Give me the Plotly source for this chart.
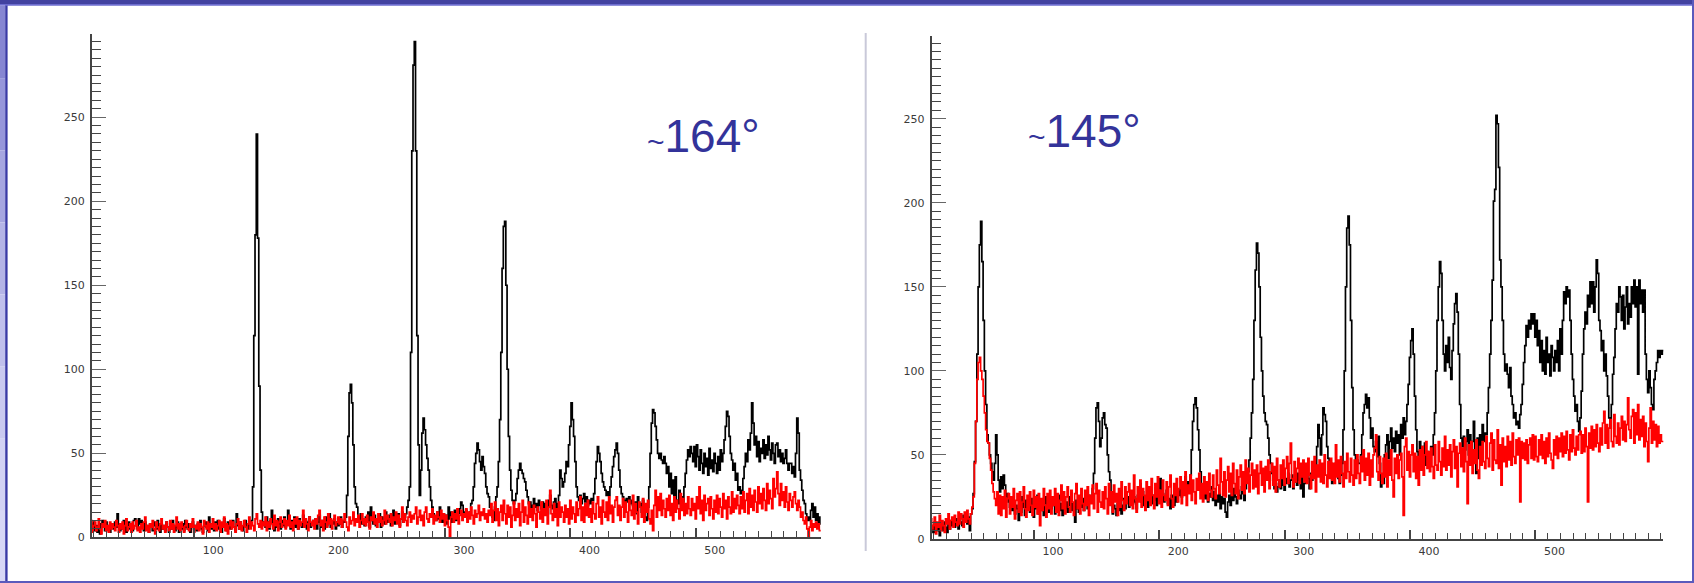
import plotly.graph_objects as go

W, H = 1694, 583

FIRST_CHANNEL = 1

# ---------------- left spectrum (~164 deg) ----------------
left_black = [
    9,10,8,6,9,4,7,3,5,2,8,10,6,4,9,5,7,3,6,8,
    5,9,6,14,7,4,8,5,10,6,3,7,9,5,8,4,10,11,7,5,
    11,8,10,6,4,9,5,7,3,8,6,4,9,7,5,10,6,3,8,5,
    7,4,9,6,3,8,5,10,7,4,6,9,3,7,5,8,4,10,6,5,
    8,3,6,9,5,7,4,8,6,10,5,3,7,9,6,4,12,8,5,7,
    4,9,6,10,5,8,3,7,11,6,4,9,7,5,8,10,6,4,14,7,
    5,9,6,4,8,10,6,5,9,7,10,30,120,180,240,178,90,40,15,9,
    8,6,12,9,5,10,16,7,4,9,6,11,8,5,10,7,12,6,9,16,
    8,5,10,7,12,6,9,5,11,8,6,13,7,10,5,9,12,6,8,10,
    7,11,5,9,13,6,10,8,5,12,7,9,14,6,10,8,11,5,9,7,
    8,12,6,10,9,12,25,60,86,91,80,55,30,20,18,12,9,14,8,11,
    7,12,9,15,6,18,10,8,13,7,11,9,14,6,12,10,8,15,9,11,
    13,7,10,16,8,12,9,14,7,11,15,9,12,14,18,22,30,110,230,281,
    295,230,120,55,25,40,62,71,64,55,47,40,30,22,18,14,12,10,15,11,
    18,12,9,14,10,13,8,18,11,15,9,13,16,10,12,14,17,21,19,15,
    12,16,11,14,15,20,22,30,44,50,56,52,45,40,48,42,38,30,26,24,
    18,15,12,10,18,24,30,45,70,110,160,185,188,150,100,60,40,28,22,20,
    22,26,35,40,44,40,38,35,33,28,24,20,21,17,19,23,18,20,16,22,
    19,17,21,15,20,18,14,22,25,19,17,21,23,18,20,25,40,35,30,33,
    38,45,42,55,66,80,70,60,45,30,24,22,25,20,23,26,21,24,19,22,
    20,23,22,26,35,45,54,50,45,38,33,30,28,25,27,25,30,36,42,48,
    52,56,50,40,30,26,24,22,20,23,21,24,20,22,19,17,21,14,24,18,
    20,15,22,16,12,10,18,30,50,68,76,74,66,58,50,47,50,46,44,48,
    44,38,42,30,38,26,34,24,36,22,20,28,20,24,21,30,38,46,52,48,
    54,50,45,54,42,55,48,40,52,44,38,50,42,47,37,53,41,46,39,50,
    44,38,48,40,52,45,50,58,66,75,72,60,50,46,40,44,34,38,28,30,
    26,28,35,42,50,45,58,52,62,80,68,55,60,48,57,45,53,50,58,47,
    55,49,60,52,46,56,50,44,55,56,48,52,45,50,44,47,52,44,40,44,
    44,38,42,36,50,71,62,40,34,28,22,20,14,10,12,10,16,20,12,18,
    10,14,8,12,8,10,8,9,8,8,
]

left_red = [
    8,5,10,3,7,9,4,6,11,5,2,8,6,10,4,7,3,9,5,8,
    6,4,10,7,3,8,5,9,2,7,11,4,6,8,3,9,5,7,10,4,
    6,3,8,5,9,12,4,7,3,8,6,10,5,2,9,6,4,8,11,5,
    7,3,9,6,4,10,5,8,3,7,12,5,8,4,9,6,3,7,10,5,
    4,8,6,11,3,7,5,9,4,8,6,2,10,7,5,9,3,8,6,11,
    5,8,4,7,10,3,9,6,12,4,8,2,7,10,5,9,6,3,8,11,
    5,9,4,7,10,6,3,8,12,5,9,7,4,11,14,8,6,10,5,9,
    7,12,4,9,6,11,8,5,13,7,10,4,9,12,6,8,11,5,10,7,
    13,6,9,4,11,8,12,5,10,7,9,16,6,11,8,4,12,9,7,10,
    5,11,8,13,16,7,10,4,12,9,6,14,8,11,5,10,13,7,9,12,
    8,11,6,10,14,9,6,4,12,8,10,15,7,11,9,13,6,10,14,8,
    11,7,13,9,5,12,10,15,8,11,6,14,9,12,7,10,16,8,13,11,
    9,14,7,12,10,15,8,13,6,11,18,9,14,10,7,12,15,9,13,11,
    14,18,8,12,16,10,13,7,15,18,11,9,14,12,17,8,13,10,15,12,
    9,16,11,14,7,13,10,6,0,12,15,9,14,11,17,8,13,16,10,14,
    12,17,9,15,11,18,13,8,16,12,14,19,10,15,13,17,11,14,9,16,
    13,20,9,16,21,10,17,7,15,19,10,22,14,8,19,12,18,6,13,21,
    10,17,12,20,7,15,22,9,18,13,8,21,12,17,10,19,14,6,18,15,
    11,21,9,17,13,22,8,18,28,14,10,20,12,17,7,21,12,18,15,9,
    19,12,17,8,22,11,18,14,9,21,13,17,24,10,18,9,20,13,22,12,
    17,9,21,14,11,20,24,12,18,8,22,15,12,21,10,24,14,19,9,18,
    22,24,13,19,10,18,23,12,21,15,9,22,16,13,25,11,20,15,8,21,
    18,12,23,9,20,15,22,11,8,16,4,19,28,12,24,16,26,13,22,17,
    12,23,16,25,13,20,10,24,15,22,17,11,26,16,23,13,20,14,24,17,
    13,23,16,20,11,24,17,30,14,22,10,25,16,20,23,13,24,17,11,22,
    15,25,14,23,18,12,26,17,22,11,24,18,14,27,15,23,17,25,19,14,
    24,17,27,15,22,26,14,29,18,25,16,28,21,15,30,20,26,17,29,22,
    16,32,20,28,23,17,35,24,29,39,26,19,32,22,27,18,30,21,16,26,
    22,18,24,27,20,16,22,18,12,15,10,8,12,5,0,6,10,4,8,6,
    9,5,8,4,4,6,5,4,5,4,
]

# ---------------- right spectrum (~145 deg) ----------------
right_black = [
    7,9,6,8,4,10,7,5,9,2,6,8,5,10,7,4,9,6,11,8,
    10,7,12,9,6,13,10,8,14,11,12,9,13,5,15,18,27,46,70,110,
    150,175,189,165,130,100,80,62,57,50,45,40,35,45,62,50,35,28,37,30,
    38,32,25,27,22,19,24,17,21,15,20,18,11,22,16,25,19,14,23,18,
    21,16,24,20,13,22,18,26,15,20,23,17,14,21,25,19,16,22,18,24,
    20,15,23,19,26,17,21,14,24,18,22,16,20,25,17,21,19,10,23,18,
    16,22,19,24,17,21,25,18,26,22,22,30,39,60,78,81,70,55,60,72,
    75,68,66,50,40,35,22,15,20,18,14,21,17,23,15,20,24,18,22,25,
    19,23,27,21,25,22,18,26,24,33,22,28,20,25,23,19,27,24,21,26,
    23,28,20,26,30,36,24,27,22,25,29,21,24,18,26,23,20,25,22,28,
    26,30,25,33,28,37,30,34,32,38,53,70,80,84,78,65,53,40,30,25,
    28,24,30,22,27,25,31,23,28,20,26,22,27,18,25,21,24,16,13,22,
    26,20,28,23,30,25,21,29,26,24,31,27,23,30,35,40,47,60,75,95,
    130,160,176,170,150,120,100,85,75,70,68,60,50,45,39,35,30,33,28,31,
    35,30,37,32,29,36,33,39,31,35,38,30,34,36,32,39,35,30,37,25,
    33,38,41,36,30,39,35,42,37,40,55,68,60,50,62,78,74,70,55,48,
    40,45,33,42,38,45,40,36,33,38,45,65,100,150,185,192,175,130,90,65,
    50,45,47,45,45,50,62,75,80,86,78,84,72,60,66,55,52,58,49,61,
    45,31,38,33,50,56,62,48,58,66,54,60,52,64,57,62,50,68,60,72,
    62,70,80,92,108,118,125,110,85,65,52,48,58,45,55,50,57,44,52,48,
    46,55,50,62,75,100,130,150,165,158,130,110,100,115,105,120,102,95,112,128,
    140,146,135,110,80,60,55,61,53,58,65,50,62,45,58,70,52,39,60,48,
    62,55,68,58,63,62,75,90,110,130,154,201,208,252,247,221,166,150,130,110,
    100,104,98,90,102,85,80,72,75,68,70,66,74,80,92,105,115,127,120,130,
    125,134,128,134,120,130,115,124,105,118,100,112,98,120,105,110,97,115,108,100,
    112,105,118,100,125,110,130,147,140,150,144,148,130,110,95,85,76,80,70,64,
    72,88,110,125,135,128,145,138,153,140,153,135,150,166,158,130,124,112,118,100,
    110,97,85,72,66,80,98,108,125,140,135,150,144,130,145,125,138,150,128,140,
    132,150,140,154,138,150,98,154,140,148,135,148,110,95,87,100,90,80,77,95,
    100,105,112,108,112,110,112,112,112,112,
]

right_red = [
    9,4,12,6,8,13,3,10,7,14,5,11,8,4,12,9,15,6,11,13,
    7,14,10,8,16,9,15,12,7,16,10,17,12,9,15,19,25,45,70,95,
    105,108,100,95,85,75,65,58,57,48,41,33,28,24,20,28,15,26,14,25,
    18,29,13,24,27,15,25,19,30,12,23,27,16,28,14,22,31,18,13,26,
    17,28,20,14,29,19,25,15,27,8,24,17,30,20,13,27,18,29,15,25,
    20,30,16,27,14,23,32,18,28,15,25,31,19,16,29,22,14,27,33,18,
    26,15,30,21,17,29,20,31,14,26,21,32,18,27,33,16,29,22,19,28,
    18,31,24,15,33,20,28,16,32,22,27,14,30,19,34,23,17,31,21,28,
    33,20,29,18,38,24,16,31,22,35,19,30,26,17,34,23,31,20,36,26,
    18,33,25,37,21,29,19,35,26,23,34,20,31,38,24,19,33,26,36,22,
    30,37,21,34,26,40,20,32,27,38,23,35,28,21,36,29,39,24,33,22,
    37,27,34,23,39,29,25,38,30,24,41,32,27,48,34,26,40,25,35,43,
    28,39,26,45,33,27,41,24,37,44,29,40,27,47,33,42,28,38,45,30,
    41,31,44,27,39,46,32,42,28,43,35,47,30,40,45,32,43,28,48,35,
    31,44,36,47,32,42,49,33,45,57,36,31,46,34,42,48,33,45,37,47,
    34,45,33,48,38,30,46,36,49,28,44,37,47,34,45,33,50,38,31,46,
    36,48,35,45,33,56,37,47,34,49,39,31,46,36,51,40,34,48,38,32,
    47,36,50,39,33,49,40,53,35,48,38,51,32,47,37,50,54,62,40,35,
    49,39,33,48,37,51,31,47,38,53,35,25,48,39,50,36,47,51,37,14,
    55,60,41,52,37,50,56,40,51,36,49,32,53,41,55,38,50,58,42,52,
    40,54,43,36,56,44,41,58,46,38,54,43,61,41,53,44,56,37,52,59,
    42,55,31,51,57,43,54,40,60,46,21,56,44,58,39,53,45,59,41,36,
    55,44,58,46,42,61,48,43,57,63,41,59,47,45,65,42,56,32,60,46,
    55,43,61,47,58,44,63,49,45,59,50,60,22,58,48,57,47,59,45,56,
    60,48,62,47,61,49,46,59,50,62,48,58,45,60,49,63,51,47,42,59,
    50,61,48,60,52,63,49,61,51,64,53,47,62,52,65,54,50,61,53,62,
    64,51,62,52,66,55,22,63,54,67,53,65,55,68,57,52,66,56,69,76,
    57,68,54,66,71,58,55,74,61,57,69,56,66,73,59,70,58,68,84,65,
    60,73,77,57,75,62,80,59,71,61,73,55,69,58,46,66,78,57,70,59,
    68,55,67,57,62,58,58,58,58,58,
]

x_label_text = ["100", "200", "300", "400", "500"]
x_tall_ticks = [85, 185, 285, 385, 485]      # long tick marks; labels sit 15 channels to the right
y_tick_values = [0, 50, 100, 150, 200, 250]
angle_labels = ["164°", "145°"]

# ---------------- helpers ----------------
def px(xp):
    return xp / W


def py(yp):
    return 1 - yp / H


def channels(arr):
    return [FIRST_CHANNEL + i - 0.5 for i in range(len(arr))]


# panel geometry (pixels)
L = dict(x0=92.0, x1=820.7, y0=537.3, y1=34.0, xr=[3.5, 584.6])
R = dict(x0=931.7, x1=1663.3, y0=539.0, y1=35.5, xr=[3.5, 587.0])
Y_RANGE = [0, 299.5]

fig = go.Figure()
line_w = 1.7
for arr, col, xa, ya in [
    (left_black, "#000000", "x", "y"),
    (left_red, "#ff0000", "x", "y"),
    (right_black, "#000000", "x2", "y2"),
    (right_red, "#ff0000", "x2", "y2"),
]:
    fig.add_trace(go.Scatter(
        x=channels(arr), y=arr, mode="lines",
        line=dict(color=col, width=line_w, shape="hv"),
        xaxis=xa, yaxis=ya, showlegend=False, hoverinfo="skip",
    ))

tick_font = dict(family="DejaVu Sans", size=11, color="#3a3a3a")
axis_col = "#444444"


def xaxis_cfg(P, anchor):
    span = P["x1"] - P["x0"]
    ppu = span / (P["xr"][1] - P["xr"][0])
    return dict(
        domain=[px(P["x0"]), px(P["x1"])], range=P["xr"], anchor=anchor,
        showline=True, linecolor=axis_col, linewidth=2, mirror=False,
        showgrid=False, zeroline=False,
        tickmode="array", tickvals=x_tall_ticks, ticktext=x_label_text,
        ticks="inside", ticklen=9, tickwidth=1.5, tickcolor=axis_col,
        ticklabelshift=int(round(15 * ppu)), ticklabelstandoff=1,
        minor=dict(tickmode="linear", tick0=5, dtick=10, ticks="inside",
                   ticklen=6, tickwidth=1.2, tickcolor=axis_col, showgrid=False),
        tickfont=tick_font, fixedrange=True, automargin=False,
    )


def yaxis_cfg(P, anchor):
    return dict(
        domain=[py(P["y0"]), py(P["y1"])], range=Y_RANGE, anchor=anchor,
        showline=True, linecolor=axis_col, linewidth=2,
        showgrid=False, zeroline=False,
        tickmode="array", tickvals=y_tick_values,
        ticks="inside", ticklen=14, tickwidth=1.3, tickcolor="#666666",
        ticklabelstandoff=3,
        minor=dict(tickmode="linear", tick0=0, dtick=5, ticks="inside",
                   ticklen=9, tickwidth=1.2, tickcolor=axis_col, showgrid=False),
        tickfont=tick_font, fixedrange=True, automargin=False,
    )


fig.update_layout(
    width=W, height=H,
    margin=dict(l=0, r=0, t=0, b=0, pad=0),
    paper_bgcolor="white", plot_bgcolor="white",
    xaxis=xaxis_cfg(L, "y"), yaxis=yaxis_cfg(L, "x"),
    xaxis2=xaxis_cfg(R, "y2"), yaxis2=yaxis_cfg(R, "x2"),
    showlegend=False,
)

# ---------------- slide frame ----------------
shapes = []
left_cols = ["#8686d2", "#9696da", "#a6a6e0", "#b4b4e6", "#c0c0ec", "#cacaf0", "#d2d2f4", "#d8d8f6"]
n = len(left_cols)
for i, c in enumerate(left_cols):
    shapes.append(dict(type="rect", xref="paper", yref="paper",
                       x0=0, x1=px(5.2), y0=py(6 + (H - 6) * (i + 1) / n), y1=py(6 + (H - 6) * i / n),
                       fillcolor=c, line=dict(width=0), layer="above"))
shapes.append(dict(type="rect", xref="paper", yref="paper", x0=px(5.2), x1=px(7.6),
                   y0=0, y1=py(4), fillcolor="#3a3aa6", line=dict(width=0), layer="above"))
shapes.append(dict(type="rect", xref="paper", yref="paper", x0=0, x1=1,
                   y0=py(4), y1=1, fillcolor="#4242a0", line=dict(width=0), layer="above"))
shapes.append(dict(type="rect", xref="paper", yref="paper", x0=0, x1=1,
                   y0=py(5.8), y1=py(4), fillcolor="#6c6cce", line=dict(width=0), layer="above"))
shapes.append(dict(type="rect", xref="paper", yref="paper", x0=px(W - 2), x1=1,
                   y0=0, y1=1, fillcolor="#5a5abc", line=dict(width=0), layer="above"))
shapes.append(dict(type="rect", xref="paper", yref="paper", x0=0, x1=1,
                   y0=0, y1=py(H - 2), fillcolor="#5a5abc", line=dict(width=0), layer="above"))
shapes.append(dict(type="line", xref="paper", yref="paper", x0=px(865.7), x1=px(865.7),
                   y0=py(551), y1=py(33), line=dict(color="#c9c9d9", width=2)))
fig.update_layout(shapes=shapes)

# ---------------- angle annotations ----------------
ann_font = dict(family="Liberation Sans", size=46, color="#33339a")
for txt, xl, yc in [(angle_labels[0], 645, 136), (angle_labels[1], 1026, 131)]:
    fig.add_annotation(
        xref="paper", yref="paper", x=px(xl), y=py(yc),
        xanchor="left", yanchor="middle", showarrow=False,
        text='<span style="font-size:30px">~</span>' + txt,
        font=ann_font,
    )

fig.write_html("out.html")
